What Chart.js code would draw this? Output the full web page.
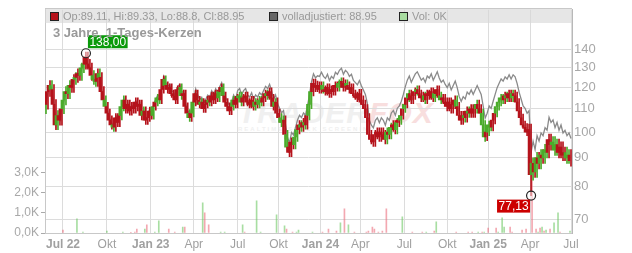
<!DOCTYPE html>
<html>
<head>
<meta charset="utf-8">
<script src="https://cdn.jsdelivr.net/npm/chart.js@4.4.0/dist/chart.umd.min.js"></script>
<style>
  html, body { margin: 0; padding: 0; background: #fff; }
  #wrap { position: relative; width: 632px; height: 253px; font-family: "Liberation Sans", Arial, sans-serif; overflow: hidden; }
  #wm { position: absolute; left: 238px; top: 96px; font: italic bold 30px "Liberation Sans", Arial, sans-serif; letter-spacing: 1px; color: #f0f0f0; }
  #wm span { color: #f8dede; }
  #wm small { display: block; font: bold 6px "Liberation Sans", Arial, sans-serif; letter-spacing: 2px; color: #f0f0f0; margin-top: -4px; }
  canvas { position: absolute; left: 0; top: 0; }
  #legend { position: absolute; left: 45px; top: 8px; width: 527px; height: 15px; background: rgba(215,215,215,0.62); border-top: 1px solid #c8c8c8; box-sizing: border-box; font-size: 11px; color: #999; }
  #legend div { position: absolute; top: 0; line-height: 14px; white-space: nowrap; }
  .sq { display: inline-block; width: 7px; height: 7px; border: 1px solid #222; vertical-align: -1px; margin-right: 4px; }
  #title { position: absolute; left: 53px; top: 25px; font-weight: bold; font-size: 13px; color: #999; }
</style>
</head>
<body>
<div id="wrap">
  <div id="wm">TRADER<span>FOX</span><small>REALTIME STOCK SCREENING</small></div>
  <canvas id="myChart" width="632" height="253"></canvas>
  <div id="legend">
    <div style="left:5px"><span class="sq" style="background:#b5121b"></span>Op:89.11, Hi:89.33, Lo:88.8, Cl:88.95</div>
    <div style="left:224px"><span class="sq" style="background:#666"></span>volladjustiert: 88.95</div>
    <div style="left:354px"><span class="sq" style="background:#a8dca0"></span>Vol: 0K</div>
  </div>
  <div id="title">3 Jahre, 1-Tages-Kerzen</div>
</div>
<script>
// daily closes, sampled roughly every 3 trading days (Jun 2022 - Jun 2025)
var firstOpen = 110;
var closes = [
  112,118,121,119,112,103,107,105,110,114,
  118,117,121,120,124,125,127,126,130,132,
  136,132,130,126,124,123,127,125,118,114,
  111,108,105,103,102,106,104,107,111,114,
  110,112,109,111,110,113,111,112,107,109,
  105,106,109,107,111,113,115,114,119,124,
  121,119,120,117,116,114,119,120,116,117,
  111,108,106,108,113,117,114,112,113,110,
  112,114,113,116,114,117,115,118,120,116,
  113,111,109,111,114,112,115,116,113,115,
  116,113,112,114,111,113,112,114,113,115,
  117,116,118,115,111,113,108,106,104,105,
  99,94,92,96,95,98,101,103,102,104,
  103,107,112,118,122,120,121,119,121,119,
  118,120,117,119,118,121,120,122,123,120,
  122,121,119,120,117,116,115,117,114,112,
  110,106,99,97,96,99,100,98,100,99,
  97,100,99,102,103,101,104,105,107,110,
  112,115,117,114,116,118,119,117,115,116,
  114,117,116,118,115,117,119,116,114,115,
  113,111,113,110,112,114,111,107,105,107,
  106,109,108,110,108,110,112,110,108,103,
  98,100,103,102,105,108,111,113,115,114,
  116,115,117,115,117,116,113,109,106,103,
  102,100,101,84,88,85,90,88,91,90,
  93,92,97,95,96,93,95,92,94,91,
  92,90,91,88.95
];

// slots where the candle is green (close above open), all others red
var upSlots = [0,3,6,9,10,12,15,18,19,24,25,27,30,34,38,39,49,54,56,57,60,
  68,72,74,78,82,87,89,94,97,98,105,107,108,111,115,118,119,121,125,126,128,130,132,
  133,139,147,148,151,171,173,176,178,180,182,186,190,195,198,
  206,210,212,216,219,220,222,223,226,227,228,229,231,234,244,246,248,250,251,254,255,256,261,262];

// typical daily high-low range (percent) per quarter, read off the candle heights
var rangeSlots = [0, 30, 52, 74, 96, 116, 137, 157, 179, 201, 221, 242];
var rangePct = [4.0, 3.5, 3.0, 3.0, 3.0, 3.5, 3.0, 3.5, 3.0, 3.5, 3.0, 4.5];

// intraday extremes that stick out of the bodies
var extremeSlots = [20, 243];
var extremeLows = [131, 77.13];
var extremeHighs = [138, 101];

// volume in thousand shares (only days with visible bars)
var volSlots = [8,15,18,30,38,42,44,45,49,50,54,56,61,64,68,69,78,79,81,87,89,98,99,105,107,115,119,120,123,125,126,
  133,138,141,145,147,149,151,154,160,161,163,164,166,168,170,178,183,188,190,194,195,205,211,213,216,218,219,221,225,226,228,229,232,233,238,240,
  243,245,246,247,248,249,250,252,254,256,257,262];
var volValues = [0.15,0.7,0.05,0.1,0.05,0.03,0.05,0.2,0.2,0.4,0.05,0.6,0.2,0.05,0.3,0.3,1.5,1.0,0.4,0.05,0.05,0.4,0.05,1.6,0.05,0.9,0.35,0.2,0.05,0.05,0.15,
  0.05,0.05,0.2,0.1,0.5,1.2,0.4,0.05,0.05,0.1,0.3,0.2,0.05,0.1,1.2,0.8,0.05,0.05,0.05,0.1,0.55,0.05,0.05,0.05,0.05,0.05,0.05,0.25,0.25,0.05,0.75,0.3,0.3,0.05,0.15,0.2,
  3.7,0.2,0.05,0.25,0.3,0.1,0.15,0.2,0.5,1.0,0.05,0.1];

// adjustment factor of the "volladjustiert" line, changing at these slots
var adjSlots = [0, 30, 52, 75, 96, 116, 137, 158, 180, 201, 243];
var adjFactors = [1.0, 1.005, 1.012, 1.02, 1.03, 1.04, 1.055, 1.06, 1.075, 1.08, 1.095];

var tickSlots = [8.5, 30.5, 52.5, 74, 96, 116.5, 137.5, 157.5, 179.5, 201, 221.5, 242.5, 263];
var tickLabels = ['Jul 22','Okt','Jan 23','Apr','Jul','Okt','Jan 24','Apr','Jul','Okt','Jan 25','Apr','Jul'];
var priceTicks = [70, 80, 90, 100, 110, 120, 130, 140];
var volTicks = [0, 1, 2, 3];

var RED = '#b5121b', GREEN = '#4aab2a';

function stepValue(slots, vals, i) {
  var v = vals[0];
  for (var k = 0; k < slots.length; k++) { if (i >= slots[k]) v = vals[k]; }
  return v;
}

var opens = closes.map(function (c, i) { return i ? closes[i - 1] : firstOpen; });
var isUp = closes.map(function (c, i) { return upSlots.indexOf(i) >= 0; });
var candleColors = isUp.map(function (u) { return u ? GREEN : RED; });

var candles = closes.map(function (c, i) { return { x: i, y: [opens[i], c] }; });
var wicks = closes.map(function (c, i) {
  var half = stepValue(rangeSlots, rangePct, i) / 200;
  var lo = Math.min(opens[i], c) * (1 - half);
  var hi = Math.max(opens[i], c) * (1 + half);
  var e = extremeSlots.indexOf(i);
  if (e >= 0) { lo = Math.min(lo, extremeLows[e]); hi = Math.max(hi, extremeHighs[e]); }
  return { x: i, y: [lo, hi] };
});

var adjusted = closes.map(function (c, i) {
  return { x: i, y: c * stepValue(adjSlots, adjFactors, i) };
});

var volume = volSlots.map(function (s, k) { return { x: s, y: volValues[k] }; });
var volColors = volSlots.map(function (s) { return isUp[s] ? 'rgba(110,200,100,0.6)' : 'rgba(235,110,125,0.6)'; });

// high / low markers
var markerPlugin = {
  id: 'markers',
  afterDatasetsDraw: function (chart) {
    var c = chart.ctx, xs = chart.scales.x, ys = chart.scales.y;
    var marks = [
      { slot: extremeSlots[0], val: extremeHighs[0], text: '138,00', bg: '#0a9a0a', up: true },
      { slot: extremeSlots[1], val: extremeLows[1], text: '77,13', bg: '#cc0000', up: false }
    ];
    c.save();
    c.font = "12px 'Liberation Sans', Arial, sans-serif";
    marks.forEach(function (m) {
      var px = xs.getPixelForValue(m.slot), py = ys.getPixelForValue(m.val);
      c.beginPath();
      c.arc(px, py, 4.5, 0, Math.PI * 2);
      c.fillStyle = 'rgba(255,255,255,0.5)';
      c.fill();
      c.lineWidth = 1.2;
      c.strokeStyle = '#222';
      c.stroke();
      var w = c.measureText(m.text).width + 3, h = 13;
      var bx = m.up ? px + 2 : px - 1 - w;
      var by = m.up ? py - 5 - h : py + 4;
      c.fillStyle = m.bg;
      c.fillRect(bx, by, w, h);
      c.fillStyle = '#fff';
      c.textBaseline = 'middle';
      c.fillText(m.text, bx + 1.5, by + h / 2 + 0.5);
    });
    c.restore();
  }
};

var ctx = document.getElementById('myChart').getContext('2d');
var myChart = new Chart(ctx, {
  data: {
    datasets: [{
      type: 'bar',
      label: 'Kerzen',
      data: candles,
      backgroundColor: candleColors,
      barThickness: 2,
      minBarLength: 1,
      yAxisID: 'y',
      order: 1
    },
    {
      type: 'bar',
      label: 'Dochte',
      data: wicks,
      backgroundColor: candleColors,
      barThickness: 1,
      yAxisID: 'y',
      order: 1
    },
    {
      type: 'line',
      label: 'volladjustiert',
      data: adjusted,
      borderColor: '#8a8a8a',
      borderWidth: 1.3,
      pointRadius: 0,
      tension: 0,
      yAxisID: 'y',
      order: 2
    },
    {
      type: 'bar',
      label: 'Vol',
      data: volume,
      backgroundColor: volColors,
      barThickness: 1,
      yAxisID: 'yVol',
      order: 3
    }]
  },
  options: {
    responsive: false,
    animation: false,
    devicePixelRatio: 1,
    layout: { padding: { top: 8, left: 0, right: 0, bottom: 0 } },
    plugins: {
      legend: { display: false },
      tooltip: { enabled: false }
    },
    scales: {
      x: {
        type: 'linear',
        offset: false,
        min: -0.5,
        max: 263.5,
        afterBuildTicks: function (s) { s.ticks = tickSlots.map(function (v) { return { value: v }; }); },
        afterFit: function (s) { s.height = 20; },
        ticks: {
          autoSkip: false,
          maxRotation: 0,
          padding: 4,
          color: '#a0a0a0',
          font: function (c) {
            var l = c.tick ? tickLabels[c.index] : '';
            var bold = l && l.indexOf(' ') > 0;
            return { family: "'Liberation Sans', Arial, sans-serif", size: 12, weight: bold ? 'bold' : 'normal' };
          },
          callback: function (v, i) { return tickLabels[i]; }
        },
        grid: { color: '#dcdcdc', drawTicks: false, offset: false },
        border: { color: '#c8c8c8' }
      },
      y: {
        type: 'logarithmic',
        position: 'right',
        min: 66.2,
        max: 164.8,
        afterBuildTicks: function (s) { s.ticks = priceTicks.map(function (v) { return { value: v }; }); },
        afterFit: function (s) { s.width = 60; },
        ticks: {
          padding: 2,
          color: '#a8a8a8',
          font: { family: "'Liberation Sans', Arial, sans-serif", size: 13 },
          callback: function (v) { return String(v); }
        },
        grid: { color: '#dcdcdc', drawTicks: false },
        border: { color: '#b8b8b8' }
      },
      yVol: {
        type: 'linear',
        position: 'left',
        min: 0,
        max: 11.08,
        afterBuildTicks: function (s) { s.ticks = volTicks.map(function (v) { return { value: v }; }); },
        afterFit: function (s) { s.width = 45; },
        ticks: {
          padding: 2,
          color: '#a8a8a8',
          font: { family: "'Liberation Sans', Arial, sans-serif", size: 12 },
          callback: function (v) { return v.toFixed(1).replace('.', ',') + 'K'; }
        },
        grid: { drawOnChartArea: false, drawTicks: true, tickLength: 4, color: '#aaa' },
        border: { color: '#c8c8c8' }
      }
    }
  },
  plugins: [markerPlugin]
});
</script>
</body>
</html>
